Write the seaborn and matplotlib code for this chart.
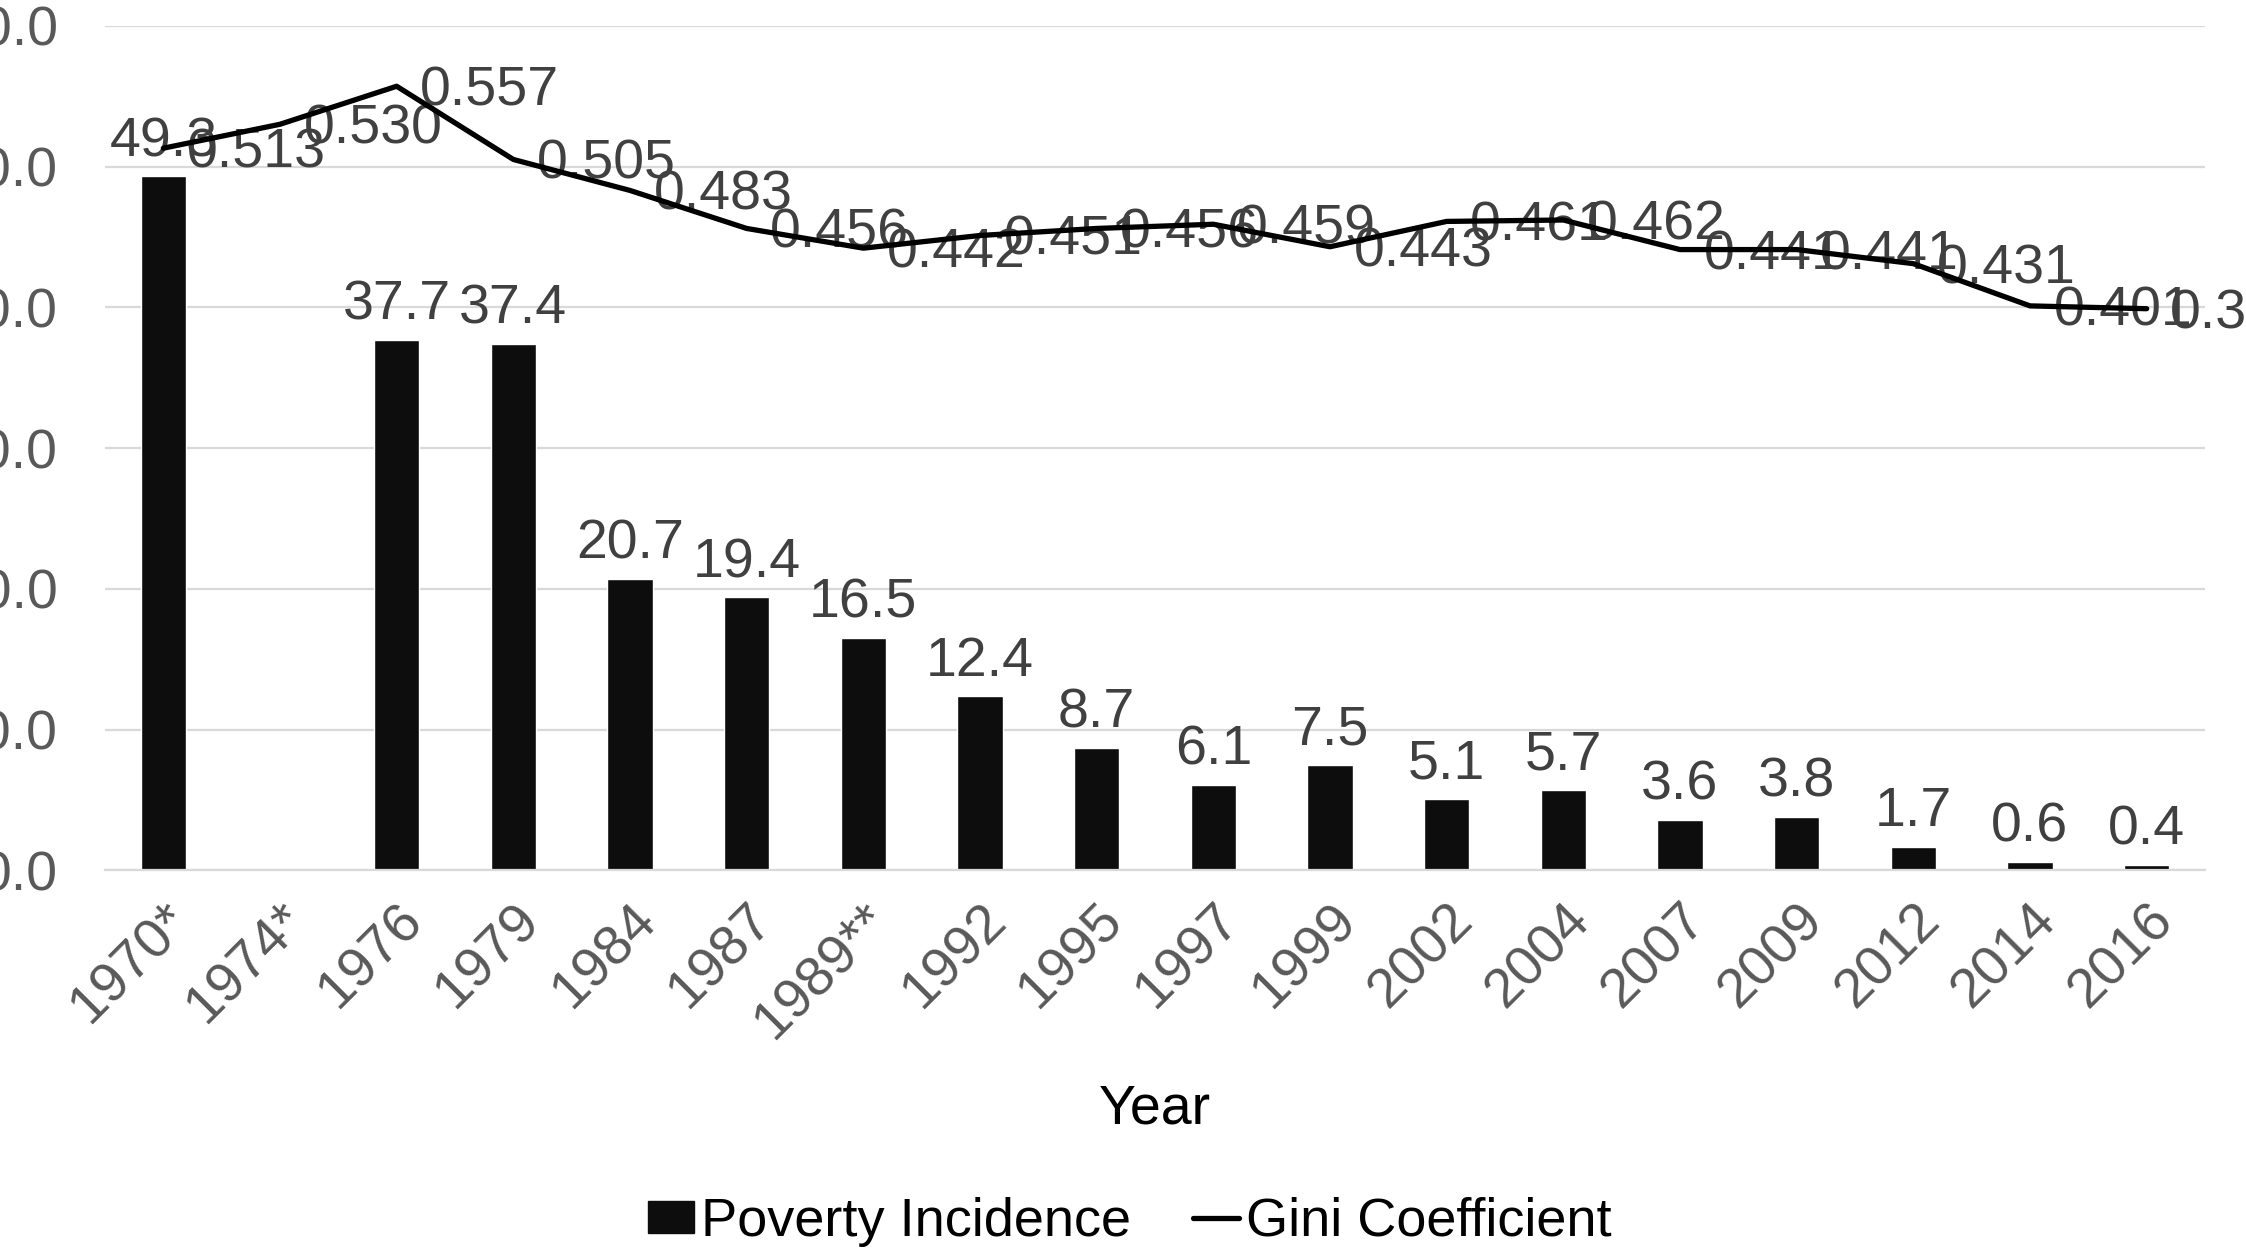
import numpy as np
import pandas as pd
import matplotlib
matplotlib.use("Agg")
import matplotlib.pyplot as plt
from matplotlib.patches import Patch
from matplotlib.lines import Line2D
import seaborn as sns

# Malaysia: poverty incidence (%) and Gini coefficient by survey year
years = ["1970*", "1974*", "1976", "1979", "1984", "1987", "1989**", "1992", "1995",
         "1997", "1999", "2002", "2004", "2007", "2009", "2012", "2014", "2016"]
poverty = [49.3, np.nan, 37.7, 37.4, 20.7, 19.4, 16.5, 12.4, 8.7,
           6.1, 7.5, 5.1, 5.7, 3.6, 3.8, 1.7, 0.6, 0.4]
gini = [0.513, 0.530, 0.557, 0.505, 0.483, 0.456, 0.442, 0.451, 0.456,
        0.459, 0.443, 0.461, 0.462, 0.441, 0.441, 0.431, 0.401, 0.399]
y_ticks = [0, 10, 20, 30, 40, 50, 60]

sns.set_theme(style="white")
plt.rcParams["font.family"] = ["Liberation Sans", "DejaVu Sans"]

FS = 40
TICK_GREY = "#595959"
LABEL_GREY = "#404040"
BAR_COLOR = "#0d0d0d"
GRID = "#d9d9d9"
LINE_W = 3.8

df = pd.DataFrame({"Year": years, "Poverty": poverty, "Gini": gini,
                   "pos": np.arange(len(years))})

fig = plt.figure(figsize=(22.46, 12.48), dpi=100)
ax = fig.add_axes([0.04675, 0.3025, 0.93499, 0.6769])

sns.barplot(data=df, x="Year", y="Poverty", order=years, color=BAR_COLOR,
            saturation=1, width=0.39, errorbar=None, ax=ax, zorder=2)
ax.set_xlim(-0.5, len(years) - 0.5)
ax.set_ylim(0, 60)
ax.set_yticks(y_ticks)
ax.set_yticklabels([f"{t:.1f}" for t in y_ticks])
ax.yaxis.grid(True, color=GRID, lw=1.6)
ax.set_axisbelow(True)
for side in ["top", "right", "left"]:
    ax.spines[side].set_visible(False)
ax.spines["bottom"].set_color(GRID)
ax.spines["bottom"].set_linewidth(1.6)
ax.tick_params(axis="y", length=0, pad=34, labelsize=FS, labelcolor=TICK_GREY)
ax.tick_params(axis="x", length=0, pad=17, labelsize=FS, labelcolor=TICK_GREY)
plt.setp(ax.get_xticklabels(), rotation=45, ha="right", rotation_mode="anchor")
ax.set_ylabel("")
ax.set_xlabel("Year", fontsize=FS, color="black")
ax.xaxis.set_label_coords(0.5, -0.252)

# value labels above the bars
for i, v in enumerate(poverty):
    if not np.isnan(v):
        ax.annotate(f"{v:.1f}", (i, v), xytext=(0, 6), textcoords="offset points",
                    ha="center", va="bottom", fontsize=FS, color=LABEL_GREY)

# Gini coefficient on a hidden secondary axis
ax2 = ax.twinx()
sns.lineplot(data=df, x="pos", y="Gini", ax=ax2, color="black", lw=LINE_W,
             legend=False, zorder=3)
ax2.set_ylim(0, 0.6)
ax2.set_xlim(-0.5, len(years) - 0.5)
ax2.set_yticks([])
ax2.set_ylabel("")
for side in ax2.spines:
    ax2.spines[side].set_visible(False)

for i, g in enumerate(gini):
    ax2.annotate(f"{g:.3f}", (i, g), xytext=(17, -14), textcoords="offset points",
                 ha="left", va="baseline", fontsize=FS, color=LABEL_GREY,
                 annotation_clip=False, zorder=2)

handles = [Patch(facecolor=BAR_COLOR, edgecolor=BAR_COLOR),
           Line2D([], [], color="black", lw=LINE_W)]
fig.legend(handles, ["Poverty Incidence", "Gini Coefficient"], loc="center",
           bbox_to_anchor=(0.503, 0.021), ncol=2, frameon=False, fontsize=39,
           handlelength=0.85, handleheight=0.53, handletextpad=0.12,
           columnspacing=1.15, borderpad=0, labelcolor="black")

fig.savefig("out.png", dpi=100)
